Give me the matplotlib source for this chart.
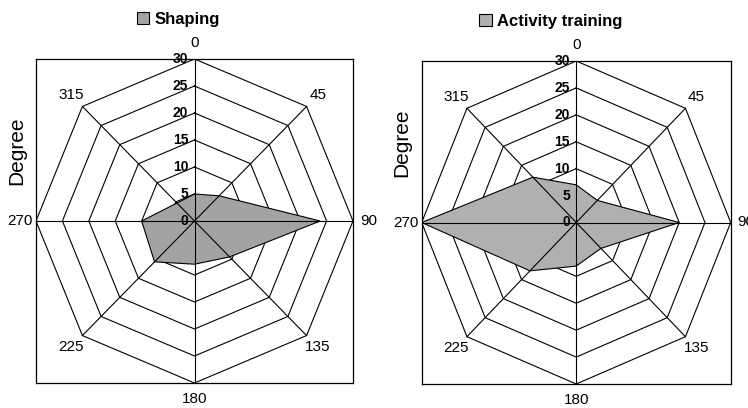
import matplotlib.pyplot as plt
import numpy as np
from matplotlib.patches import Patch

plt.rcParams['font.family'] = ['Liberation Sans', 'DejaVu Sans']

# direcoes (graus) e valores
angulos = [0, 45, 90, 135, 180, 225, 270, 315]
rotulos = ['0', '45', '90', '135', '180', '225', '270', '315']
shaping = [5.0, 6.6, 23.8, 9.4, 8.0, 10.7, 10.0, 4.7]
atividade = [7.0, 5.8, 20.0, 6.8, 8.1, 12.7, 30.0, 11.9]
aneis = [5, 10, 15, 20, 25, 30]
titulos = ['Shaping', 'Activity training']
cores = ['#a3a3a3', '#b0b0b0']

W, H = 748, 408
fig = plt.figure(figsize=(W / 100, H / 100), dpi=100)

# posicoes dos quadros em pixels (esq, dir, topo, base)
quadros = [(36, 353, 59, 383), (421.7, 730.7, 61, 384)]
legx = [0.448, 0.417]
degx = [17, 401.5]
degy = [151, 143]

th = np.radians(angulos + [angulos[0]])


def xy(r, t):
    return r * np.sin(t), r * np.cos(t)


for k, valores in enumerate([shaping, atividade]):
    e, d, t, b = quadros[k]
    ax = fig.add_axes([e / W, (H - b) / H, (d - e) / W, (b - t) / H])
    ax.set_xlim(-30, 30)
    ax.set_ylim(-30, 30)
    ax.set_xticks([])
    ax.set_yticks([])
    for s in ax.spines.values():
        s.set_linewidth(0.9)
        s.set_color('black')

    # aneis octogonais
    for r in aneis:
        x, y = xy(r, th)
        ax.plot(x, y, color='black', lw=0.8, zorder=1)

    # poligono dos dados
    v = np.array(valores + [valores[0]])
    x, y = xy(v, th)
    ax.fill(x, y, facecolor=cores[k], edgecolor='black', lw=0.8, zorder=2,
            label=titulos[k])

    # raios
    for a in angulos:
        x, y = xy(np.array([0, 30]), np.radians(a))
        ax.plot(x, y, color='black', lw=0.8, zorder=3)

    # rotulos radiais
    for r in [0] + aneis:
        ax.text(-1.2, r, str(r), ha='right', va='center', fontsize=10,
                fontweight='bold', zorder=4)

    # rotulos de direcao
    for a, lab in zip(angulos, rotulos):
        x, y = xy(33.0, np.radians(a))
        ax.text(x, y, lab, ha='center', va='center', fontsize=11,
                clip_on=False)

    fig.text(degx[k] / W, 1 - degy[k] / H, 'Degree', rotation=90,
             ha='center', va='center', fontsize=15)

    leg = ax.legend(handles=[Patch(facecolor=cores[k], edgecolor='black', lw=0.8)],
                    labels=[titulos[k]], loc='center',
                    bbox_to_anchor=(legx[k], 1.123), frameon=False,
                    prop={'weight': 'bold', 'size': 12}, handlelength=0.75,
                    handleheight=0.75, handletextpad=0.3, borderpad=0)

fig.savefig('out.png', dpi=100)
